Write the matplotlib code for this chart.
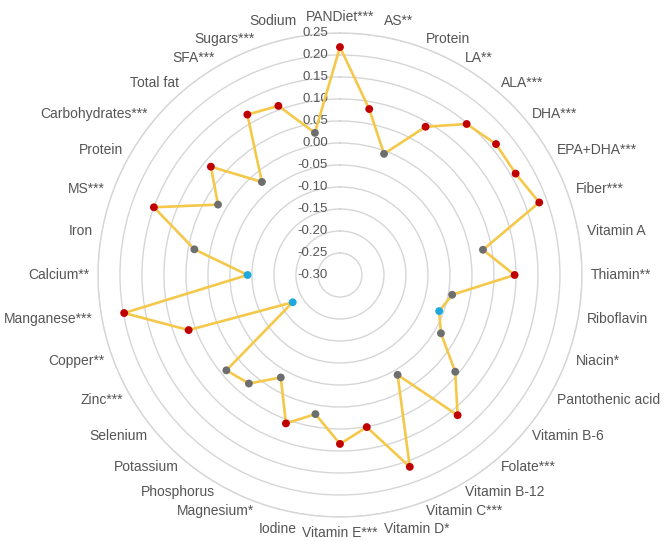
import numpy as np
import matplotlib
matplotlib.use("Agg")
import matplotlib.pyplot as plt

plt.rcParams['font.family'] = ['Liberation Sans', 'DejaVu Sans']

categories = ['PANDiet***', 'AS**', 'Protein', 'LA**', 'ALA***', 'DHA***', 'EPA+DHA***',
              'Fiber***', 'Vitamin A', 'Thiamin**', 'Riboflavin', 'Niacin*',
              'Pantothenic acid', 'Vitamin B-6', 'Folate***', 'Vitamin B-12',
              'Vitamin C***', 'Vitamin D*', 'Vitamin E***', 'Iodine', 'Magnesium*',
              'Phosphorus', 'Potassium', 'Selenium', 'Zinc***', 'Copper**',
              'Manganese***', 'Calcium**', 'Iron', 'MS***', 'Protein',
              'Carbohydrates***', 'Total fat', 'SFA***', 'Sugars***', 'Sodium']

values = [0.218, 0.083, -0.007, 0.089, 0.148, 0.163, 0.161,
          0.182, 0.030, 0.097, -0.041, -0.060,
          -0.035, 0.042, 0.116, -0.038,
          0.164, 0.051, 0.084, 0.021, 0.059,
          -0.031, 0.022, 0.037, -0.176, 0.066,
          0.198, -0.090, 0.036, 0.150, 0.020,
          0.083, -0.024, 0.121, 0.109, 0.028]

# 'up' = significant positive, 'down' = significant negative, 'ns' = not significant
signif = ['up', 'up', 'ns', 'up', 'up', 'up', 'up',
          'up', 'ns', 'up', 'ns', 'down',
          'ns', 'ns', 'up', 'ns',
          'up', 'up', 'up', 'ns', 'up',
          'ns', 'ns', 'ns', 'down', 'up',
          'up', 'down', 'ns', 'up', 'ns',
          'up', 'ns', 'up', 'up', 'ns']

r_ticks = [0.25, 0.20, 0.15, 0.10, 0.05, 0.00, -0.05, -0.10, -0.15, -0.20, -0.25, -0.30]

point_colors = {'up': '#C00000', 'down': '#1DA9DC', 'ns': '#6E6E6E'}
grid_col = '#D6D6D6'
text_col = '#555555'

n = len(categories)
angles = np.arange(n) * 2 * np.pi / n

fig = plt.figure(figsize=(6.66, 5.41), dpi=100)
ax = fig.add_axes([0.1471, 0.0444, 0.7267, 0.8946], projection='polar')
ax.set_theta_zero_location('N')
ax.set_theta_direction(-1)
ax.set_ylim(-0.30, 0.25)

ax.set_xticks([])
ax.set_yticks([t for t in r_ticks if t > -0.30])
ax.set_yticklabels([])
ax.yaxis.grid(True, color=grid_col, linewidth=1.0)
ax.xaxis.grid(False)
ax.spines['polar'].set_color(grid_col)
ax.spines['polar'].set_linewidth(1.0)

# radial tick labels along the top spoke
for t in r_ticks:
    ax.annotate(f'{t:.2f}', xy=(0, t), xytext=(-12, 0), textcoords='offset pixels',
                ha='right', va='center', fontsize=9.5, color=text_col)

# data line (closed)
a_closed = np.append(angles, angles[0])
v_closed = np.append(values, values[0])
ax.plot(a_closed, v_closed, color='#F4C84A', linewidth=1.9, zorder=3)

for key, col in point_colors.items():
    idx = [i for i, s in enumerate(signif) if s == key]
    ax.scatter(angles[idx], np.array(values)[idx], s=32, color=col, zorder=4,
               edgecolors='none')

# category labels
label_r = 0.27
for ang, lab in zip(angles, categories):
    s, c = np.sin(ang), np.cos(ang)
    if abs(s) < 0.1:
        ha = 'center'
    elif s > 0:
        ha = 'left'
    else:
        ha = 'right'
    if c > 0.95:
        va = 'bottom'
    elif c < -0.95:
        va = 'top'
    else:
        va = 'center'
    ax.text(ang, label_r, lab, ha=ha, va=va, fontsize=10, color=text_col, clip_on=False)

fig.savefig('out.png', dpi=100, facecolor='white')
